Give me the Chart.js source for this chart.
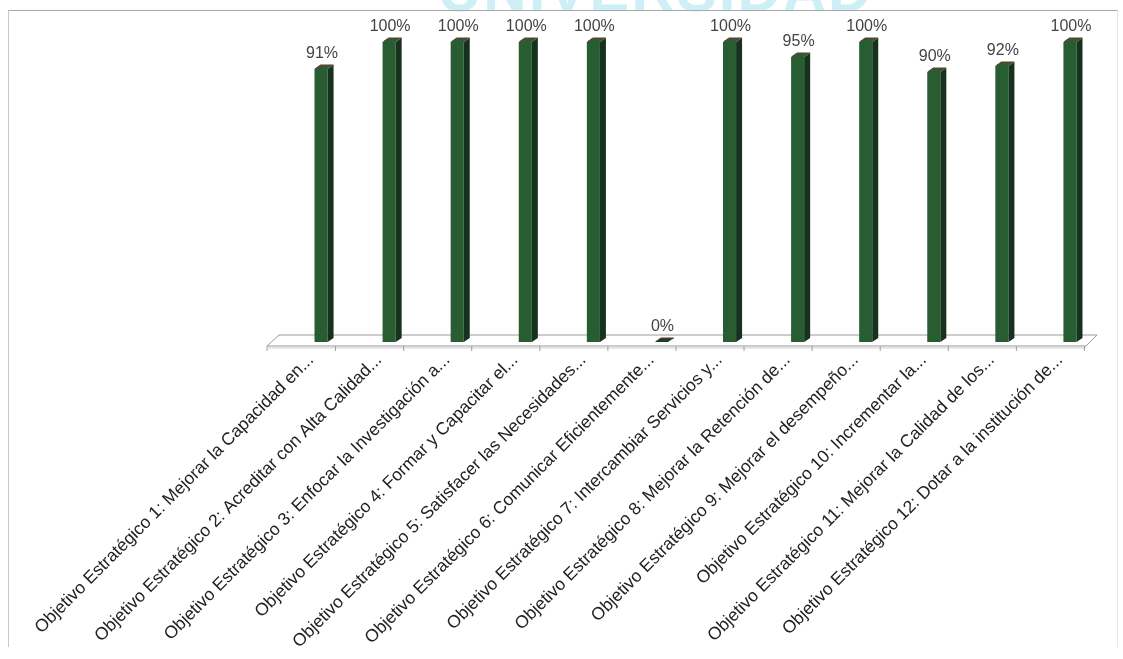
<!DOCTYPE html>
<html>
<head>
<meta charset="utf-8">
<script src="https://cdn.jsdelivr.net/npm/chart.js@4.4.1/dist/chart.umd.min.js"></script>
<style>
  html, body { margin: 0; padding: 0; background: #fff; }
  #wrap { position: relative; width: 1123px; height: 659px; overflow: hidden; }
  #marca { position: absolute; left: 438px; top: -39px; font: bold 60px/60px "Liberation Sans", Arial, sans-serif;
           color: #cfeff6; letter-spacing: 2px; }
  #marco { position: absolute; left: 8px; top: 10px; width: 1108px; height: 636px;
           border-top: 1px solid #a8a8a8; border-left: 1px solid #c8c8c8; border-right: 1px solid #e8e8e8; }
  #lienzo { position: absolute; left: 0; top: 0; }
</style>
</head>
<body>
<div id="wrap">
  <div id="marca">UNIVERSIDAD</div>
  <div id="marco"></div>
  <canvas id="lienzo" width="1123" height="659"></canvas>
</div>
<script>
// Datos del gráfico
const categorias = [
  'Objetivo Estratégico 1: Mejorar la Capacidad en...',
  'Objetivo Estratégico 2: Acreditar con Alta Calidad...',
  'Objetivo Estratégico 3: Enfocar la Investigación a...',
  'Objetivo Estratégico 4: Formar y Capacitar el...',
  'Objetivo Estratégico 5: Satisfacer las Necesidades...',
  'Objetivo Estratégico 6: Comunicar Eficientemente...',
  'Objetivo Estratégico 7: Intercambiar Servicios y...',
  'Objetivo Estratégico 8: Mejorar la Retención de...',
  'Objetivo Estratégico 9: Mejorar el desempeño...',
  'Objetivo Estratégico 10: Incrementar la...',
  'Objetivo Estratégico 11: Mejorar la Calidad de los...',
  'Objetivo Estratégico 12: Dotar a la institución de...'
];
const avance = [91, 100, 100, 100, 100, 0, 100, 95, 100, 90, 92, 100];

const FONDO = 6; // profundidad del efecto 3D

// Piso del gráfico en perspectiva
const piso = {
  id: 'piso',
  beforeDatasetsDraw(chart) {
    const { ctx, chartArea: a, scales } = chart;
    const base = scales.y.getPixelForValue(0);
    ctx.save();
    ctx.fillStyle = '#ffffff';
    ctx.strokeStyle = '#9a9a9a';
    ctx.lineWidth = 1;
    ctx.beginPath();
    ctx.moveTo(a.left - 20, base + 4);
    ctx.lineTo(a.right - 18, base + 4);
    ctx.lineTo(a.right - 7, base - 7);
    ctx.lineTo(a.left - 8, base - 7);
    ctx.closePath();
    ctx.fill();
    ctx.stroke();
    ctx.strokeStyle = '#cfcfcf';
    ctx.beginPath();
    ctx.moveTo(a.left - 19, base + 6);
    ctx.lineTo(a.right - 18, base + 6);
    ctx.stroke();
    // marcas del eje
    ctx.strokeStyle = '#a0a0a0';
    ctx.beginPath();
    ctx.moveTo(a.left - 20, base + 4);
    ctx.lineTo(a.left - 20, base + 9);
    chart.getDatasetMeta(0).data.forEach(b => {
      ctx.moveTo(b.x + 14.5, base + 4);
      ctx.lineTo(b.x + 14.5, base + 9);
    });
    ctx.stroke();
    ctx.restore();
  }
};

// Caras laterales y superiores de las columnas + etiquetas de valor
const columnas3d = {
  id: 'columnas3d',
  afterDatasetsDraw(chart) {
    const { ctx } = chart;
    const meta = chart.getDatasetMeta(0);
    ctx.save();
    meta.data.forEach((b, i) => {
      const izq = b.x - b.width / 2;
      const der = b.x + b.width / 2;
      // lado derecho
      ctx.fillStyle = '#16321c';
      ctx.beginPath();
      ctx.moveTo(der, b.y);
      ctx.lineTo(der + FONDO, b.y - 4);
      ctx.lineTo(der + FONDO, b.base - 4);
      ctx.lineTo(der, b.base);
      ctx.closePath();
      ctx.fill();
      // tapa superior
      ctx.fillStyle = avance[i] === 0 ? '#1d3f24' : '#2f5a35';
      ctx.beginPath();
      ctx.moveTo(izq, b.y);
      ctx.lineTo(izq + FONDO, b.y - 4);
      ctx.lineTo(der + FONDO, b.y - 4);
      ctx.lineTo(der, b.y);
      ctx.closePath();
      ctx.fill();
      ctx.strokeStyle = '#6b3a2a';
      ctx.lineWidth = 1;
      ctx.beginPath();
      ctx.moveTo(izq + 1, b.y - 0.5);
      ctx.lineTo(izq + FONDO, b.y - 4);
      ctx.lineTo(der + FONDO, b.y - 4);
      ctx.stroke();
      // etiqueta
      ctx.fillStyle = '#444444';
      ctx.font = '16px "Liberation Sans", Arial, sans-serif';
      ctx.textAlign = 'center';
      ctx.textBaseline = 'alphabetic';
      ctx.fillText(avance[i] + '%', b.x + 1, b.y - 11);
    });
    ctx.restore();
  }
};

const ctx = document.getElementById('lienzo').getContext('2d');
const chart = new Chart(ctx, {
  type: 'bar',
  data: {
    labels: categorias,
    datasets: [{
      data: avance,
      backgroundColor: '#285c31',
      borderWidth: 0,
      barPercentage: 0.8,
      categoryPercentage: 0.24
    }]
  },
  options: {
    responsive: false,
    animation: false,
    layout: { padding: { left: 287, right: 19, top: 42, bottom: 0 } },
    plugins: { legend: { display: false }, tooltip: { enabled: false } },
    scales: {
      x: {
        grid: { display: false },
        border: { display: false },
        afterFit(s) { s.height = 317; },
        ticks: {
          autoSkip: false,
          minRotation: 45,
          maxRotation: 45,
          labelOffset: -10,
          padding: 0,
          color: '#222222',
          font: { family: '"Liberation Sans", Arial, sans-serif', size: 17.5 }
        }
      },
      y: {
        display: false,
        min: 0,
        max: 100
      }
    }
  },
  plugins: [piso, columnas3d]
});
</script>
</body>
</html>
